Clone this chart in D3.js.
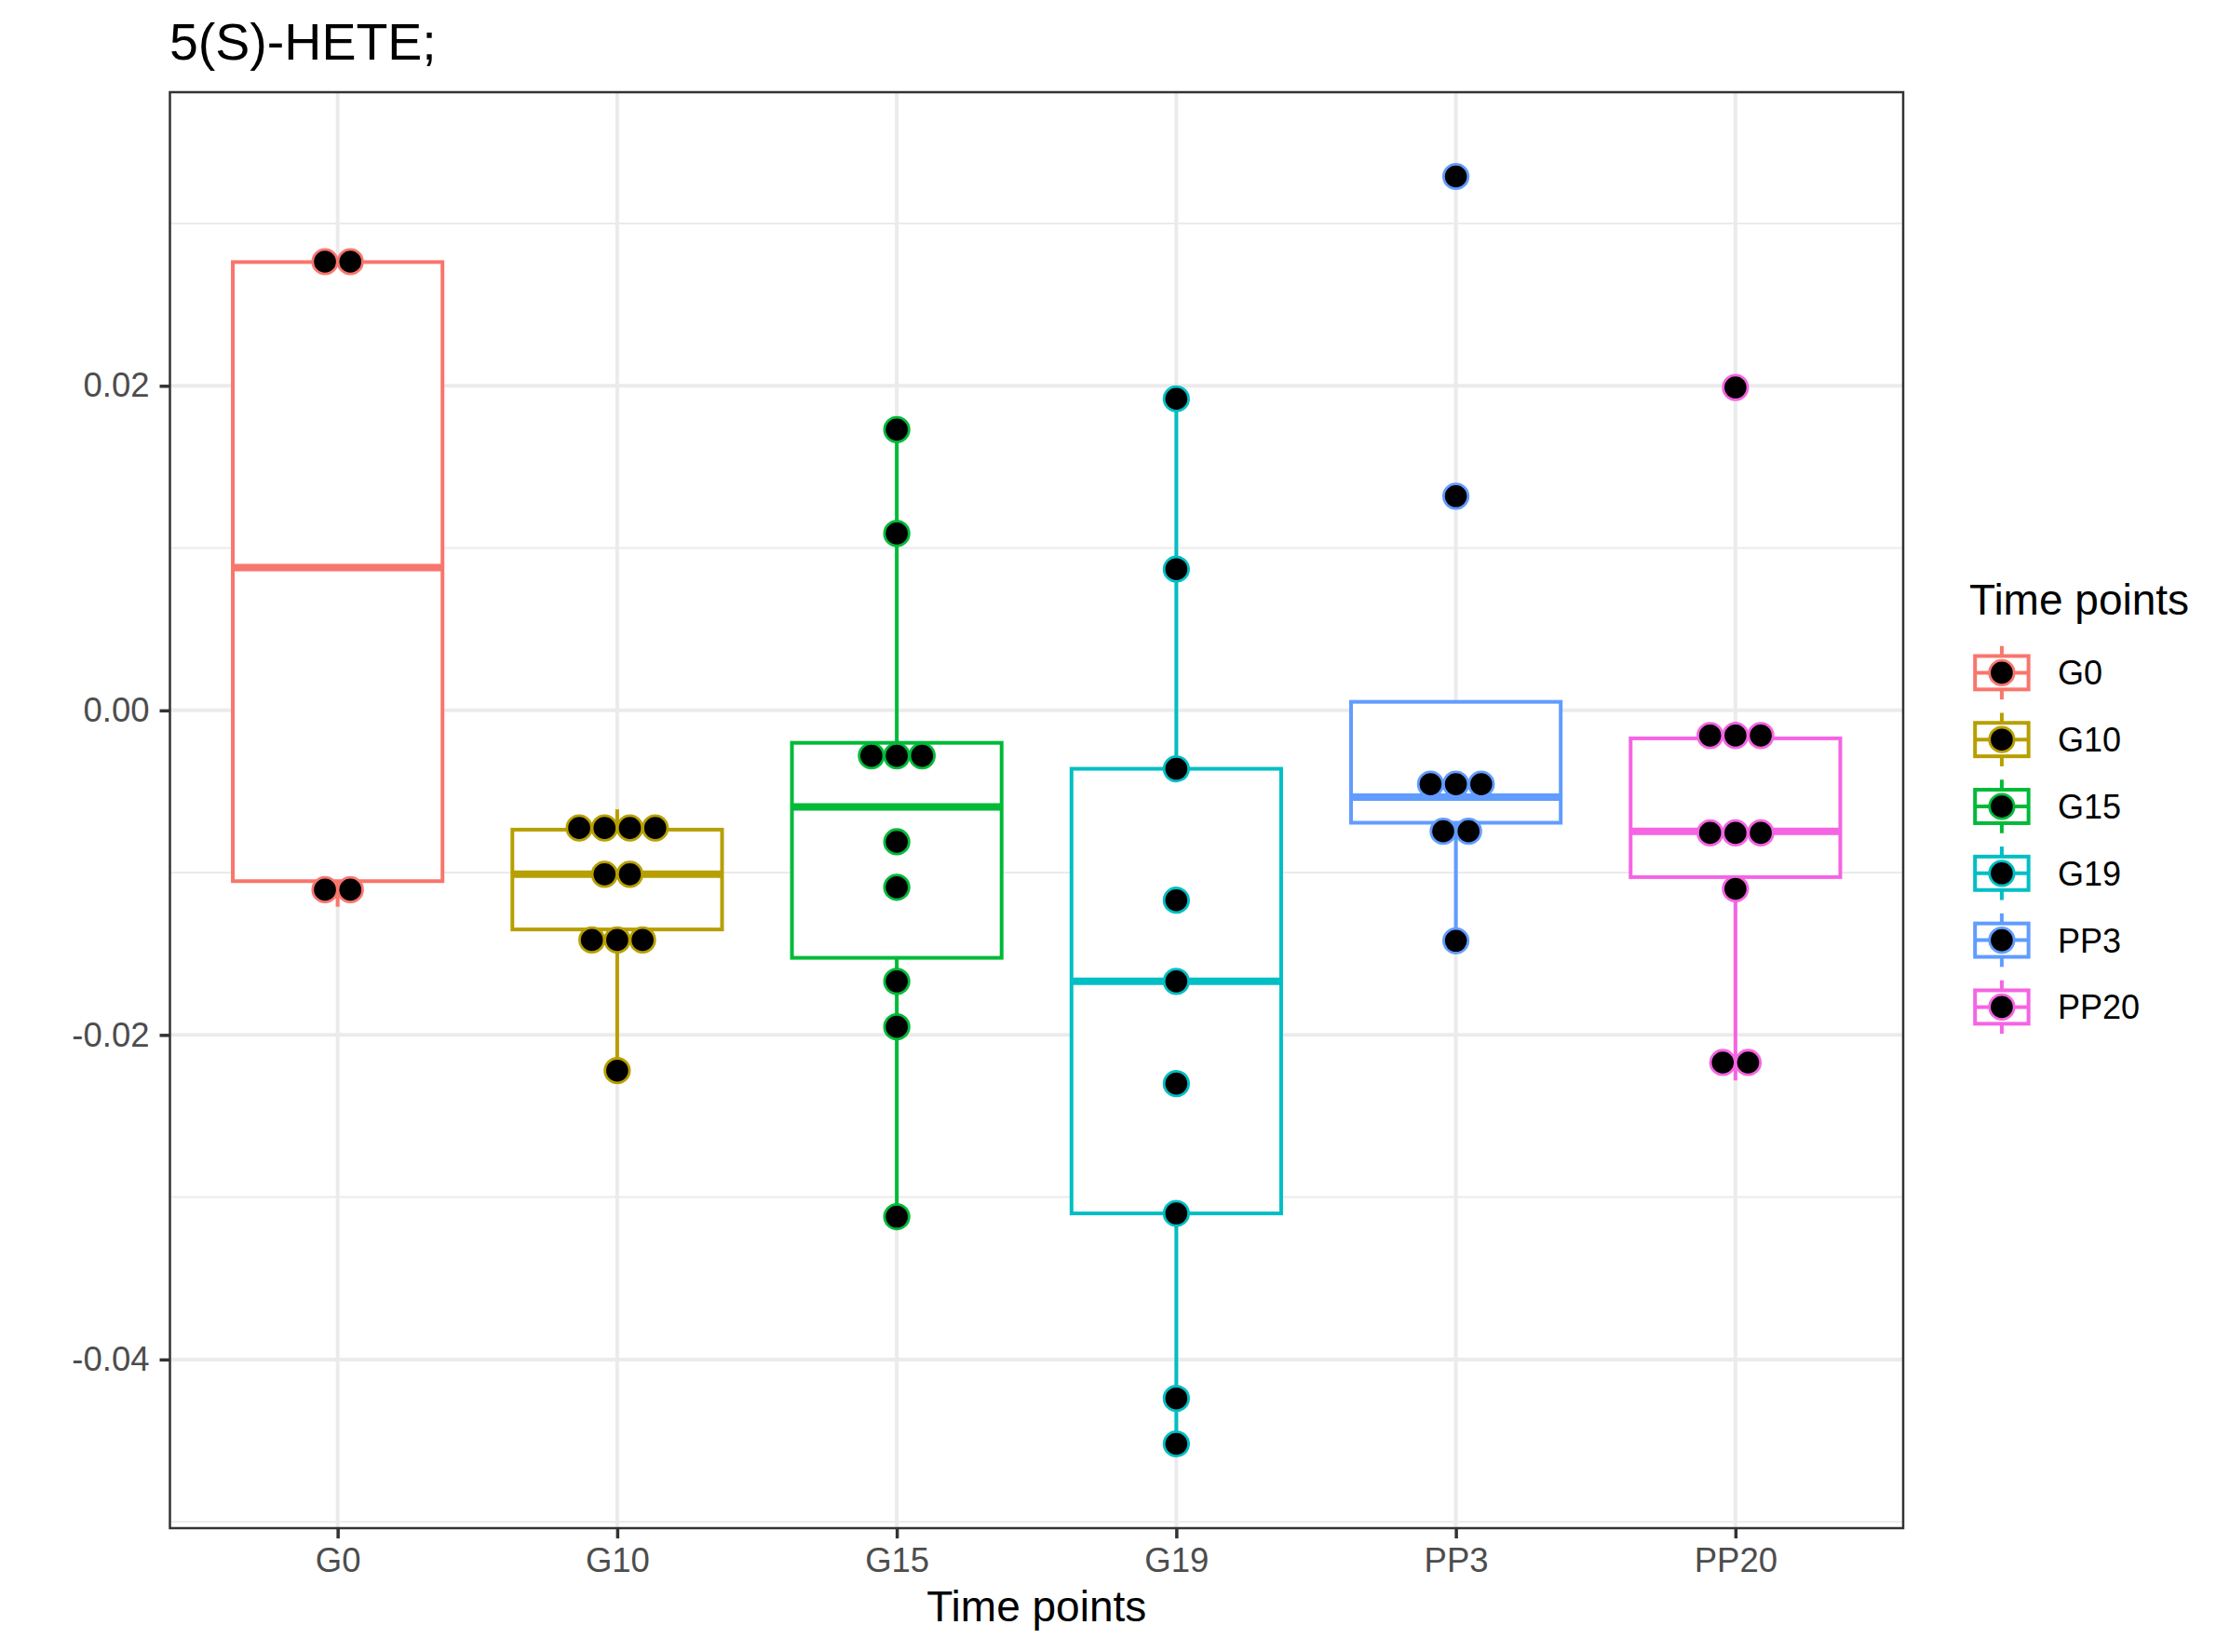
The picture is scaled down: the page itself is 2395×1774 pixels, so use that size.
<!DOCTYPE html>
<html>
<head>
<meta charset="utf-8">
<script src="https://cdn.jsdelivr.net/npm/d3@7"></script>
<style>
	body { margin: 0; background: #fff; }
	text { font-family: 'Liberation Sans', Arial, Helvetica, sans-serif; }
</style>
</head>
<body>
<svg id="chart" width="2395" height="1774"></svg>
<script>
// categories and colours (ggplot hue palette)
const groups = ['G0', 'G10', 'G15', 'G19', 'PP3', 'PP20']
const colours = ['#F8766D', '#B79F00', '#00BA38', '#00BFC4', '#619CFF', '#F564E3']

const valuesG0 = [-0.0121, -0.0100, 0.0276, 0.0277]
const valuesG10 = [-0.0222, -0.0154, -0.0137, -0.0129, -0.0112, -0.0090, -0.0084, -0.0070, -0.0065, -0.0061]
const valuesG15 = [-0.0312, -0.0195, -0.0167, -0.0109, -0.0081, -0.0038, -0.0026, -0.0018, 0.0109, 0.0173]
const valuesG19 = [-0.0452, -0.0424, -0.0310, -0.0230, -0.0167, -0.0117, -0.0036, 0.0087, 0.0192]
const valuesPP3 = [-0.0142, -0.0085, -0.0064, -0.0054, -0.0053, -0.0037, 0.0132, 0.0329]
const valuesPP20 = [-0.0228, -0.0206, -0.0110, -0.0081, -0.0079, -0.0070, -0.0024, -0.0015, -0.0007, 0.0199]

const majorTicks = [-0.04, -0.02, 0, 0.02]
const minorTicks = [-0.05, -0.03, -0.01, 0.01, 0.03]

const title = '5(S)-HETE;'
const xTitle = 'Time points'
const legendTitle = 'Time points'

const series = [valuesG0, valuesG10, valuesG15, valuesG19, valuesPP3, valuesPP20]

// layout
const panel = { left: 182.5, right: 2044, top: 99, bottom: 1641 }
const dotsize = 0.6
const boxWidth = 0.75

const svg = d3.select('#chart')
svg.append('rect').attr('width', 2395).attr('height', 1774).attr('fill', '#fff')

//dotdensity binning, like geom_dotplot(binaxis = 'y')
function dotBins(vals, bw) {
	const s = vals.slice().sort(d3.ascending)
	const bins = []
	let end = -Infinity
	let cur
	for (const v of s) {
		if (v >= end) {
			cur = []
			bins.push(cur)
			end = v + bw
		}
		cur.push(v)
	}
	return bins.map((b) => ({ center: (b[0] + b[b.length - 1]) / 2, count: b.length }))
}

const all = series.flat()
const binwidth = (d3.max(all) - d3.min(all)) / 30
const binned = series.map((v) => dotBins(v, binwidth))
const centers = binned.flat().map((b) => b.center)
const lo = d3.min(centers) - binwidth * 0.45
const hi = d3.max(centers) + binwidth * 0.45
const pad = 0.05 * (hi - lo)

const x = d3.scalePoint().domain(groups).range([panel.left, panel.right]).padding(0.6)
const y = d3.scaleLinear().domain([lo - pad, hi + pad]).range([panel.bottom, panel.top])
const step = x.step()

const fmt = d3.formatLocale({ decimal: '.', thousands: ',', grouping: [3], currency: ['', ''], minus: '-' }).format('.2f')

// grid
const grid = svg.append('g')
grid.selectAll('.minor')
	.data(minorTicks)
	.join('line')
	.attr('x1', panel.left).attr('x2', panel.right)
	.attr('y1', (d) => y(d)).attr('y2', (d) => y(d))
	.style('stroke', '#EBEBEB').style('stroke-width', 2)
grid.selectAll('.major')
	.data(majorTicks)
	.join('line')
	.attr('x1', panel.left).attr('x2', panel.right)
	.attr('y1', (d) => y(d)).attr('y2', (d) => y(d))
	.style('stroke', '#EBEBEB').style('stroke-width', 4)
grid.selectAll('.vert')
	.data(groups)
	.join('line')
	.attr('x1', (d) => x(d)).attr('x2', (d) => x(d))
	.attr('y1', panel.top).attr('y2', panel.bottom)
	.style('stroke', '#EBEBEB').style('stroke-width', 4)

// boxplot stats
const stats = series.map((v, i) => {
	const s = v.slice().sort(d3.ascending)
	const q1 = d3.quantile(s, 0.25)
	const med = d3.quantile(s, 0.5)
	const q3 = d3.quantile(s, 0.75)
	const iqr = q3 - q1
	const lower = d3.min(s.filter((d) => d >= q1 - 1.5 * iqr))
	const upper = d3.max(s.filter((d) => d <= q3 + 1.5 * iqr))
	return { key: groups[i], colour: colours[i], q1, med, q3, lower, upper }
})

const boxes = svg.append('g')
	.selectAll('g')
	.data(stats)
	.join('g')

boxes.append('line')
	.attr('x1', (d) => x(d.key)).attr('x2', (d) => x(d.key))
	.attr('y1', (d) => y(d.q3)).attr('y2', (d) => y(d.upper))
	.style('stroke', (d) => d.colour).style('stroke-width', 4)
boxes.append('line')
	.attr('x1', (d) => x(d.key)).attr('x2', (d) => x(d.key))
	.attr('y1', (d) => y(d.q1)).attr('y2', (d) => y(d.lower))
	.style('stroke', (d) => d.colour).style('stroke-width', 4)
boxes.append('rect')
	.attr('x', (d) => x(d.key) - (boxWidth * step) / 2)
	.attr('width', boxWidth * step)
	.attr('y', (d) => y(d.q3))
	.attr('height', (d) => y(d.q1) - y(d.q3))
	.style('fill', '#fff')
	.style('stroke', (d) => d.colour).style('stroke-width', 4)
boxes.append('line')
	.attr('x1', (d) => x(d.key) - (boxWidth * step) / 2)
	.attr('x2', (d) => x(d.key) + (boxWidth * step) / 2)
	.attr('y1', (d) => y(d.med)).attr('y2', (d) => y(d.med))
	.style('stroke', (d) => d.colour).style('stroke-width', 8)

// dots, stacked centred around each category
const dia = y(0) - y(binwidth * dotsize)
const dotStroke = 2.8
const dotR = dia / 2 - 0.4
const dots = []
binned.forEach((bins, i) => {
	bins.forEach((b) => {
		for (let k = 0; k < b.count; k++) {
			dots.push({ key: groups[i], colour: colours[i], value: b.center, offset: k - (b.count - 1) / 2 })
		}
	})
})
svg.append('g')
	.selectAll('circle')
	.data(dots)
	.join('circle')
	.attr('cx', (d) => x(d.key) + d.offset * dia)
	.attr('cy', (d) => y(d.value))
	.attr('r', dotR)
	.style('fill', '#000')
	.style('stroke', (d) => d.colour)
	.style('stroke-width', dotStroke)

// panel border
svg.append('rect')
	.attr('x', panel.left).attr('y', panel.top)
	.attr('width', panel.right - panel.left).attr('height', panel.bottom - panel.top)
	.style('fill', 'none').style('stroke', '#333333').style('stroke-width', 2.5)

// axes
const yAxis = svg.append('g')
	.attr('transform', `translate(${panel.left},0)`)
	.call(d3.axisLeft(y).tickValues(majorTicks).tickFormat(fmt).tickSize(11).tickPadding(11))
const xAxis = svg.append('g')
	.attr('transform', `translate(0,${panel.bottom})`)
	.call(d3.axisBottom(x).tickSize(11).tickPadding(10))
for (const ax of [yAxis, xAxis]) {
	ax.select('.domain').remove()
	ax.selectAll('.tick line').style('stroke', '#333333').style('stroke-width', 3.5)
	ax.selectAll('.tick text')
		.style('fill', '#4D4D4D')
		.style('font-size', '36.5px')
		.style('font-family', "'Liberation Sans', Arial, Helvetica, sans-serif")
}

// titles
svg.append('text')
	.attr('x', 182).attr('y', 64)
	.style('font-size', '55.5px')
	.text(title)
svg.append('text')
	.attr('x', (panel.left + panel.right) / 2).attr('y', 1741)
	.attr('text-anchor', 'middle')
	.style('font-size', '46px')
	.text(xTitle)

// legend
const legend = svg.append('g')
legend.append('text')
	.attr('x', 2115).attr('y', 660)
	.style('font-size', '46px')
	.text(legendTitle)

const keySize = 71.8
const keyX = 2114
const keyTop = 686.5
const keys = legend.selectAll('.key')
	.data(groups.map((g, i) => ({ key: g, colour: colours[i], i })))
	.join('g')
	.attr('transform', (d) => `translate(${keyX},${keyTop + d.i * keySize})`)

keys.append('line')
	.attr('x1', keySize / 2).attr('x2', keySize / 2)
	.attr('y1', keySize * 0.1).attr('y2', keySize * 0.9)
	.style('stroke', (d) => d.colour).style('stroke-width', 4)
keys.append('rect')
	.attr('x', keySize * 0.1).attr('width', keySize * 0.8)
	.attr('y', keySize * 0.25).attr('height', keySize * 0.5)
	.style('fill', '#fff')
	.style('stroke', (d) => d.colour).style('stroke-width', 4)
keys.append('line')
	.attr('x1', keySize * 0.1).attr('x2', keySize * 0.9)
	.attr('y1', keySize / 2).attr('y2', keySize / 2)
	.style('stroke', (d) => d.colour).style('stroke-width', 4)
keys.append('circle')
	.attr('cx', keySize / 2).attr('cy', keySize / 2)
	.attr('r', dotR)
	.style('fill', '#000')
	.style('stroke', (d) => d.colour).style('stroke-width', dotStroke)
keys.append('text')
	.attr('x', 2210 - keyX).attr('y', keySize / 2 + 13)
	.style('font-size', '36px')
	.text((d) => d.key)
</script>
</body>
</html>
